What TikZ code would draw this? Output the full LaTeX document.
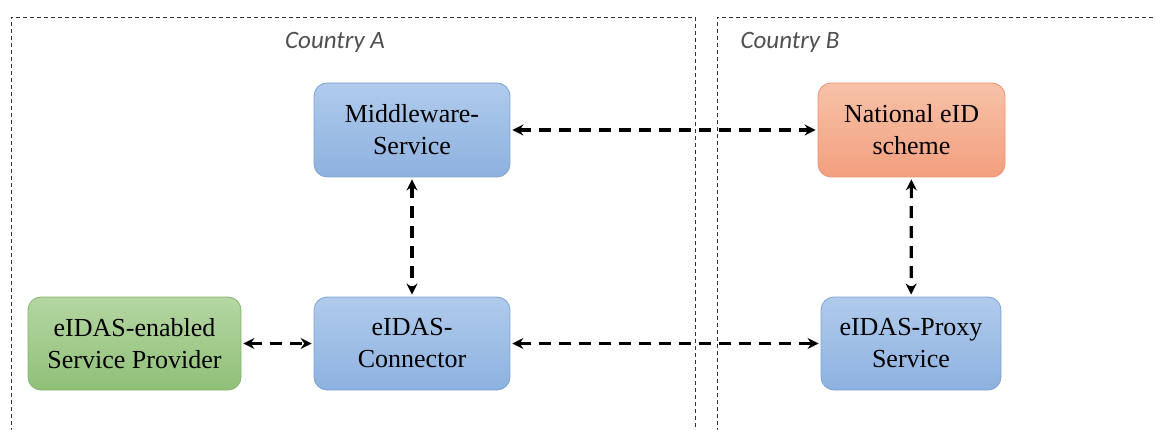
\documentclass[tikz,border=0pt]{standalone}
\usepackage{fontspec}
\setmainfont{Liberation Serif}
\newfontfamily\calib{Carlito}
\usetikzlibrary{arrows.meta}
\definecolor{bluetop}{HTML}{B0CBEC}
\definecolor{bluebot}{HTML}{8DB1DF}
\definecolor{blueedge}{HTML}{7EA3D3}
\definecolor{greentop}{HTML}{B5D6A2}
\definecolor{greenbot}{HTML}{90C078}
\definecolor{greenedge}{HTML}{82B36C}
\definecolor{orangetop}{HTML}{F8C2A8}
\definecolor{orangebot}{HTML}{F29F7E}
\definecolor{orangeedge}{HTML}{EC9473}
\definecolor{labelgray}{HTML}{505050}
\tikzset{
  box/.style={rounded corners=13pt, line width=0.8pt, align=center,
    inner sep=0pt, font=\fontsize{26}{32}\selectfont, text=black},
  bluebox/.style={box, draw=blueedge, top color=bluetop, bottom color=bluebot},
  greenbox/.style={box, draw=greenedge, top color=greentop, bottom color=greenbot},
  orangebox/.style={box, draw=orangeedge, top color=orangetop, bottom color=orangebot},
  frame/.style={draw=black!80, line width=0.9pt, dash pattern=on 4pt off 3pt},
  link/.style={line width=3.2pt, dash pattern=on 12pt off 8pt,
    {Stealth[length=11pt,width=11pt]}-{Stealth[length=11pt,width=11pt]}, shorten <=2pt, shorten >=2pt},
  country/.style={font=\calib\itshape\fontsize{25}{30}\selectfont, text=labelgray}
}
\begin{document}
\begin{tikzpicture}[x=1pt,y=-1pt]
\useasboundingbox (0,0) rectangle (1155,430);
% frames
\draw[frame] (11,432) -- (11,17) -- (695,17) -- (695,432);
\draw[frame] (717,432) -- (717,17) -- (1157,17);
\node[country, anchor=center] (ca) at (335,42) {Country A};
\node[country, anchor=center] (cb) at (790,42) {Country B};
% boxes
\node[bluebox, minimum width=196pt, minimum height=94pt] (mw) at (412,130) {Middleware-\\Service};
\node[orangebox, minimum width=187pt, minimum height=94pt] (nat) at (911.5,130) {National eID\\scheme};
\node[greenbox, minimum width=213pt, minimum height=93pt] (sp) at (134.5,343.5) {eIDAS-enabled\\Service Provider};
\node[bluebox, minimum width=196pt, minimum height=93pt] (con) at (412,343.5) {eIDAS-\\Connector};
\node[bluebox, minimum width=180pt, minimum height=93pt] (px) at (911,343.5) {eIDAS-Proxy\\Service};
% links
\draw[link] (mw) -- (nat);
\draw[link] (mw) -- (con);
\draw[link] (nat) -- (px);
\draw[link] (sp) -- (con);
\draw[link] (con) -- (px);
\end{tikzpicture}
\end{document}
